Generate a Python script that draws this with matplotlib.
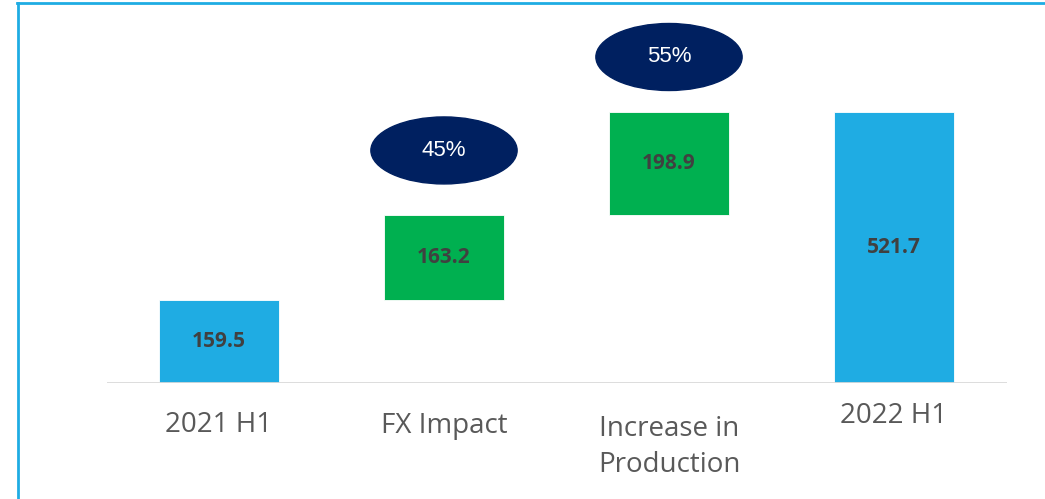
import matplotlib.pyplot as plt
from matplotlib.patches import Ellipse
from matplotlib.lines import Line2D

categories = ["2021 H1", "FX Impact", "Increase in\nProduction", "2022 H1"]
values = [159.5, 163.2, 198.9, 521.7]
is_total = [True, False, False, True]
shares = ["", "45%", "55%", ""]

BLUE = "#1FACE3"
GREEN = "#00B050"
NAVY = "#002060"

plt.rcParams["font.family"] = ["Open Sans", "DejaVu Sans"]

fig = plt.figure(figsize=(10.45, 4.99), dpi=100)
ax = fig.add_axes([106.5 / 1045, 116 / 499, 900 / 1045, 374 / 499])

# waterfall bottoms
bottoms = []
running = 0
for v, tot in zip(values, is_total):
    if tot:
        bottoms.append(0)
        running = v
    else:
        bottoms.append(running)
        running += v

colors = [BLUE if t else GREEN for t in is_total]
x = range(len(values))
bars = ax.bar(x, values, bottom=bottoms, width=0.535, color=colors,
              edgecolor="white", linewidth=0.6)

for i, (v, bt) in enumerate(zip(values, bottoms)):
    ax.text(i, bt + v / 2, f"{v:.1f}", ha="center", va="center",
            fontsize=15, fontweight="bold", color="#404040")

# share bubbles above the increments
bubble_gap = [0, 125, 106, 0]
for i, (s, v, bt) in enumerate(zip(shares, values, bottoms)):
    if not s:
        continue
    cy = bt + v + bubble_gap[i]
    ax.add_patch(Ellipse((i, cy), 0.65, 129, color=NAVY, clip_on=False))
    ax.text(i, cy, s, ha="center", va="center", fontsize=16,
            color="white", family="Liberation Sans")

ax.set_xlim(-0.5, 3.5)
ax.set_ylim(0, 720)
ax.axhline(0, color="#D9D9D9", linewidth=2)
for sp in ax.spines.values():
    sp.set_visible(False)
ax.set_yticks([])
ax.set_xticks([])

# category labels (offset below the baseline, in pixels)
label_drop = [42, 43, 64, 33]
for i, (c, d) in enumerate(zip(categories, label_drop)):
    ax.annotate(c, xy=(i, 0), xytext=(0, -d * 0.72), textcoords="offset points",
                ha="center", va="center", fontsize=20, color="#595959",
                linespacing=1.38, annotation_clip=False)

# outer frame (top and left edges)
fig.add_artist(Line2D([17.8 / 1045, 17.8 / 1045], [0, 1 - 3.2 / 499],
                      transform=fig.transFigure, color=BLUE, linewidth=2))
fig.add_artist(Line2D([16.8 / 1045, 1], [1 - 3.2 / 499, 1 - 3.2 / 499],
                      transform=fig.transFigure, color=BLUE, linewidth=2))

fig.savefig("out.png", dpi=100)
